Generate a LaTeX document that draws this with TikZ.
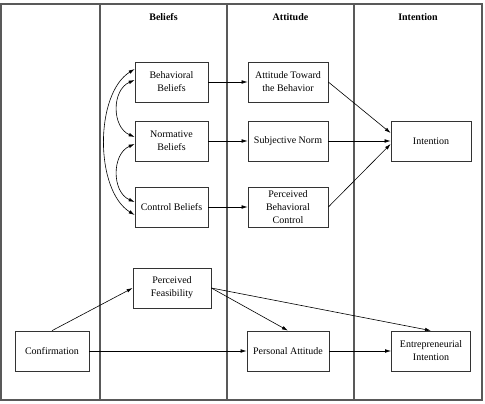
\documentclass[tikz,border=0pt]{standalone}
\usepackage{fontspec}
\setmainfont{Liberation Serif}
\usetikzlibrary{arrows.meta,calc}

\tikzset{
  box/.style={draw=black!80, line width=0.7pt, minimum height=40pt,
    minimum width=80pt, inner xsep=2pt, inner ysep=1pt, align=center,
    font=\fontsize{10}{13}\selectfont},
  lane/.style={draw=black!65, line width=1.1pt},
  head/.style={font=\fontsize{10}{12}\selectfont\bfseries},
  link/.style={->, line width=0.6pt}
}

\begin{document}
\begin{tikzpicture}[x=1pt, y=-1pt, >={Latex[length=6pt,width=3.6pt]}]
    \useasboundingbox (0,0) rectangle (485,404);

    % Frame and the three columns
    \draw[lane] (1,4) rectangle (482,400);
    \draw[lane] (100,4) -- (100,400);
    \draw[lane] (227,4) -- (227,400);
    \draw[lane] (354,4) -- (354,400);

    % Column headings
    \node[head] (hbel) at (163.5,17) {Beliefs};
    \node[head] (hatt) at (290.5,17) {Attitude};
    \node[head] (hint) at (418,17) {Intention};

    % Beliefs
    \node[box, minimum width=73pt] (bb) at (171.5,82) {Behavioral\\Beliefs};
    \node[box, minimum width=73pt] (nb) at (171.5,141) {Normative\\Beliefs};
    \node[box, minimum width=73pt] (cb) at (171.5,207) {Control Beliefs};

    % Attitudes
    \node[box] (atb) at (288,82) {Attitude Toward\\the Behavior};
    \node[box] (sn) at (288,141) {Subjective Norm};
    \node[box, inner ysep=0pt] (pbc) at (288,207) {Perceived\\Behavioral\\Control};

    % Intention
    \node[box] (int) at (431,141) {Intention};

    % Lower model
    \node[box, minimum width=78pt] (pf) at (172,288) {Perceived\\Feasibility};
    \node[box, minimum width=74pt] (conf) at (52,351) {Confirmation};
    \node[box, minimum width=82pt] (pa) at (288,351) {Personal Attitude};
    \node[box, minimum width=79pt] (ei) at (431,351) {Entrepreneurial\\Intention};

    % Correlations among beliefs
    \draw[link, <->] ($(bb.west)+(0,-13)$) .. controls +(-40,25) and +(-40,-25) .. ($(cb.west)+(0,8)$);
    \draw[link, <->] ($(bb.west)+(0,-2)$) .. controls +(-23,10) and +(-23,-10) .. ($(nb.west)+(0,-4)$);
    \draw[link, <->] ($(nb.west)+(0,3)$) .. controls +(-23,10) and +(-23,-10) .. ($(cb.west)+(0,-5)$);

    % Beliefs to attitudes
    \draw[link] (bb.east) -- (atb.west);
    \draw[link] (nb.east) -- (sn.west);
    \draw[link] (cb.east) -- (pbc.west);

    % Attitudes to intention
    \draw[link] (atb.east) -- ($(int.west)+(0,-8)$);
    \draw[link] (sn.east) -- (int.west);
    \draw[link] (pbc.east) -- ($(int.west)+(0,3)$);

    % Lower paths
    \draw[link] (conf.north) -- (pf.west);
    \draw[link] (conf.east) -- (pa.west);
    \draw[link] (pf.east) -- (pa.north);
    \draw[link] (pf.east) -- (ei.north);
    \draw[link] (pa.east) -- (ei.west);
\end{tikzpicture}
\end{document}
